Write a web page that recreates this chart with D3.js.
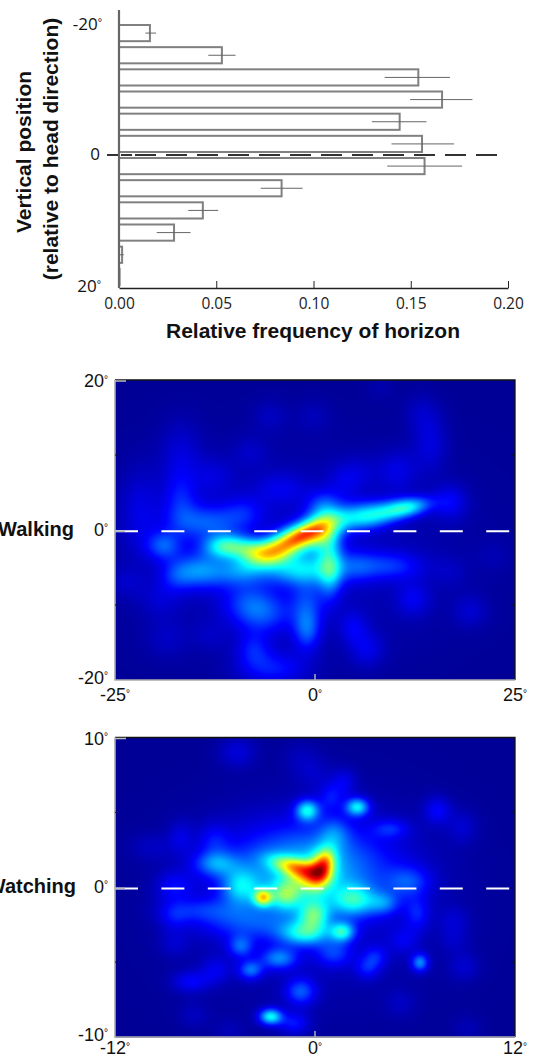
<!DOCTYPE html>
<html><head><meta charset="utf-8">
<script src="https://cdnjs.cloudflare.com/ajax/libs/d3/7.8.5/d3.min.js"></script>
<style>html,body{margin:0;padding:0;background:#fff;overflow:hidden}svg{display:block}</style>
</head><body><svg id="c" width="533" height="1058"></svg>
<script>
const binIndex=[1,2,3,4,5,6,7,8,9,10,11,12];
const freq=[0.0159,0.0529,0.1539,0.1661,0.1443,0.1558,0.1571,0.0836,0.0431,0.0283,0.0016,0.0003];
const errLow=[0.0136,0.0459,0.1366,0.1497,0.130,0.1401,0.1379,0.0729,0.0356,0.0194,0.0002,0];
const errHigh=[0.019,0.0599,0.1702,0.1817,0.1581,0.1723,0.1764,0.0944,0.051,0.0368,0.0024,0.0006];
const freqTicks=[0,0.05,0.10,0.15,0.20];
// hotspots: [x deg, y deg, level, spread x, spread y, tilt]
const walking=[
[-3,-3,.07,9,6,0],
[-2.25,-1.2,.72,2.7,.85,-25],[-1.4,-.5,.15,1.3,.5,-25],[-5.8,-3.2,.18,1.2,.8,0],[-11,-2.2,.42,1.3,.75,0],[-8,-2.6,.2,1,.7,0],
[1.9,-5.2,.28,.7,1.8,0],[-1.8,-5.2,.33,2.2,1,0],[6.9,1.9,.36,1.7,.8,-10],[11.5,3,.38,1.4,.6,-10],[16.9,3.7,.12,1,1.1,0],
[1.1,3,.2,1,1,0],[1.1,-1.2,.24,1,1.2,0],[-14.3,-5.4,.25,1.5,1.1,0],[-18.9,-2.1,.2,1,.9,0],[-13.5,1,.2,2,1.1,0],
[-16.8,3.7,.13,1,1.8,0],[-8.9,2.4,.1,1.2,1,0],[-6.4,-11.2,.17,1.7,1.3,0],[-1,-13.4,.2,.8,1.3,0],[-1,-9.6,.14,1,1.5,0],
[-8.5,-9.6,.12,1.5,1.2,0],[-7.7,-15.9,.13,1,1.1,0],[-5.2,-18.5,.15,2,1.1,0],[6.5,-15.9,.1,1,1.1,0],[4.8,-13,.1,.8,1,0],
[9.4,-4.8,.16,1.9,.9,0],[5.2,-4.8,.12,1.2,1,0],[12.3,-9.2,.1,1,1.1,0],[19.4,-10.8,.07,1,1,0],[14.4,11.7,.09,1,1.8,0],
[13.2,15.7,.05,1,1.2,0],[10.3,7.9,.09,1.2,1.3,0],[-16.8,9.9,.08,1.2,2.2,0],[-21.8,2.4,.09,1.2,2.7,0],[-5.6,15.2,.05,1,1,0],
[-.2,15.2,.04,1,1,0],[8.2,19,.03,.8,.8,0],[-8.1,10.4,.05,1,1,0],[3.6,6.4,.07,1,1.2,0],[5.7,7.7,.05,1,1,0],
[-12.7,7.2,.07,1.2,1.2,0],[-4.3,5.5,.08,1.5,1,0],[-18.5,-14.5,.05,1.2,1.2,0],[-13.1,-14.1,.04,1,1,0],[16.9,-5.6,.04,1,1,0],
[-23.5,-7,.05,1,1,0],[-19.3,-9.2,.06,1.2,1.2,0],[22.3,-3.4,.03,1,1,0],[-9.3,-5.6,.15,1.5,1,0],[-17.3,-6.1,.12,1,1,0]];
const watching=[
[0,-1,.07,4,3.5,0],
[.34,1.13,.42,.4,.7,15],[.64,1.7,.22,.3,.5,15],[-1.26,1.36,.4,.8,.33,15],[-.46,.7,.28,.6,.5,0],[-.46,1.13,.33,2.6,1.6,0],
[-.46,5.13,.38,.38,.38,0],[2.54,5.36,.38,.38,.33,0],[-3.12,-.69,.5,.3,.3,0],[-1.76,-.53,.32,.5,.5,0],[-.06,-1.87,.35,.5,.55,0],
[1.64,-2.98,.36,.4,.35,0],[-.66,-3.09,.33,.8,.45,0],[2.34,-.87,.3,.7,.55,0],[4.14,-1.09,.17,.5,.4,0],[-4.46,.02,.25,.6,.65,0],
[-5.96,1.58,.22,.7,.45,0],[-2.66,-8.64,.42,.38,.3,0],[-.86,-6.98,.22,.5,.5,0],[-1.26,-9.09,.15,.5,.4,0],[-2.16,-4.76,.25,.6,.4,0],
[-3.86,-5.53,.24,.4,.35,0],[-4.46,-3.98,.2,.4,.4,0],[6.3,-5.04,.28,.28,.33,0],[3.14,-5.42,.13,.4,.4,0],[3.64,-4.64,.13,.4,.4,0],
[1.14,-4.42,.16,.6,.5,0],[-7.46,-6.31,.13,.6,.4,0],[-5.96,-5.53,.1,.5,.5,0],[-4.66,9.02,.09,.6,.55,0],[7.34,5.13,.13,.44,.5,0],
[8.84,4.02,.07,.5,.6,0],[4.54,3.91,.13,.6,.35,0],[5.64,.36,.16,.7,.55,0],[6.14,-1.76,.13,.4,.6,0],[1.74,7.02,.1,.4,.5,0],
[.94,6.02,.12,.4,.5,0],[-.86,8.69,.04,.6,.6,0],[-.06,7.58,.05,.6,.6,0],[-8.06,3.36,.08,.4,.6,0],[-9.86,2.69,.05,.7,.5,0],
[-8.46,.02,.12,.6,.55,0],[-6.86,-1.53,.12,1.2,.45,0],[-4.06,-2.42,.15,1.6,.65,0],[-8.46,-1.98,.09,.5,.5,0],[-8.46,-3.76,.06,.5,.5,0],
[5.34,-3.53,.09,.5,.5,0],[8.34,-2.2,.06,.5,.5,0],[8.94,-5.31,.07,.5,.5,0],[8.34,-3.53,.05,.5,.5,0],[5.14,-7.76,.05,.5,.5,0],
[-7.26,-8.53,.05,.5,.5,0],[9.14,-9.42,.04,.5,.5,0],[-5.16,-9.64,.04,.5,.5,0],[1.14,3.6,.14,.5,.6,0],[-6.06,3.13,.1,.5,.6,0]];

const svg=d3.select("#c");
const tickFont="'Open Sans',sans-serif", labFont="'Liberation Sans',Arial,sans-serif";
function deg(sel,txt,size){sel.text(txt);sel.append("tspan").attr("font-size",size).attr("dy",-size*.45).text("°");}

/* bar chart */
const xF=d3.scaleLinear().domain([0,.2]).range([119,508]);
const yB=d3.scaleBand().domain(binIndex).range([22,288]).paddingInner(.27).paddingOuter(.135);
const barG=svg.append("g");
barG.selectAll("rect.bar").data(binIndex).join("rect").attr("class","bar")
 .attr("x",xF(0)).attr("y",d=>yB(d)).attr("width",(d,i)=>xF(freq[i])-xF(0)).attr("height",yB.bandwidth())
 .attr("fill","#fff").attr("stroke","#808080").attr("stroke-width",2);
barG.selectAll("line.err").data(binIndex).join("line").attr("class","err")
 .attr("x1",(d,i)=>xF(errLow[i])).attr("x2",(d,i)=>xF(errHigh[i]))
 .attr("y1",d=>yB(d)+yB.bandwidth()/2).attr("y2",d=>yB(d)+yB.bandwidth()/2)
 .attr("stroke","#666").attr("stroke-width",1);
const axB=barG.append("g").attr("transform","translate(0,288)")
 .call(d3.axisBottom(xF).tickValues(freqTicks).tickFormat(d3.format(".2f")).tickSize(-7).tickSizeOuter(0));
axB.select(".domain").attr("stroke","#222").attr("stroke-width",1.3);
axB.selectAll(".tick line").attr("stroke","#222");
axB.selectAll(".tick text").attr("y",10).attr("font-family",tickFont).attr("font-size",15.5).attr("fill","#222");
barG.append("line").attr("x1",xF(0)).attr("x2",xF(0)).attr("y1",10).attr("y2",288).attr("stroke","#666").attr("stroke-width",2.2);
barG.append("line").attr("x1",107).attr("x2",501).attr("y1",155).attr("y2",155)
 .attr("stroke","#333").attr("stroke-width",2).attr("stroke-dasharray","11 3 11 3 21 10 21 10 21 10 21 10 21 10 21 10 21 10 21 10 21 10 21 10 21 10 21 10");
barG.append("text").attr("x",102).attr("y",30).attr("text-anchor","end").attr("font-family",tickFont).attr("font-size",17).attr("fill","#111").call(deg,"-20",10);
barG.append("text").attr("x",100).attr("y",160).attr("text-anchor","end").attr("font-family",tickFont).attr("font-size",17).attr("fill","#111").text("0");
barG.append("text").attr("x",101).attr("y",292).attr("text-anchor","end").attr("font-family",tickFont).attr("font-size",17).attr("fill","#111").call(deg,"20",10);
const bold=(s)=>s.attr("text-anchor","middle").attr("font-family",labFont).attr("font-weight","bold").attr("font-size",21).attr("fill","#111");
barG.append("text").attr("x",313).attr("y",338).call(bold).text("Relative frequency of horizon");
barG.append("text").attr("transform","translate(31,152) rotate(-90)").call(bold).text("Vertical position");
barG.append("text").attr("transform","translate(58,149) rotate(-90)").call(bold).text("(relative to head direction)");

/* jet colour scale */
const jet=d3.scaleLinear().domain([0,.125,.375,.625,.875,1]).range(["rgb(0,0,150)","rgb(0,0,255)","rgb(0,255,255)","rgb(255,255,0)","rgb(255,0,0)","rgb(128,0,0)"]).clamp(true);
const levelFactor=.85;

function panel(o){
 const x=d3.scaleLinear().domain(o.xd).range([o.l,o.r]);
 const y=d3.scaleLinear().domain(o.yd).range([o.b,o.t]);
 const W=Math.round(o.r-o.l),H=Math.round(o.b-o.t);
 const cv=document.createElement("canvas");cv.width=W;cv.height=H;
 const ctx=cv.getContext("2d"),img=ctx.createImageData(W,H);
 const prep=o.spots.map(s=>{const a=s[5]*Math.PI/180;return{px:x(s[0]),py:y(s[1]),v:s[2]*levelFactor,
   sx:o.spread*Math.abs(x(s[3])-x(0)),sy:o.spread*Math.abs(y(s[4])-y(0)),c:Math.cos(a),s:Math.sin(a)}});
 for(let j=0;j<H;j++)for(let i=0;i<W;i++){
  let f=0;const X=o.l+i+.5,Y=o.t+j+.5;
  for(const p of prep){const dx=X-p.px,dy=Y-p.py;const u=dx*p.c+dy*p.s,w=-dx*p.s+dy*p.c;
   f+=p.v*Math.exp(-.5*(u*u/(p.sx*p.sx)+w*w/(p.sy*p.sy)));}
  const c=d3.rgb(jet(f)),k=(j*W+i)*4;
  img.data[k]=c.r;img.data[k+1]=c.g;img.data[k+2]=c.b;img.data[k+3]=255;
 }
 ctx.putImageData(img,0,0);
 const g=svg.append("g");
 g.append("image").attr("x",o.l).attr("y",o.t).attr("width",W).attr("height",H).attr("href",cv.toDataURL());
 const ly=y(0)+1.2;
 g.append("line").attr("x1",o.l).attr("x2",o.r).attr("y1",ly).attr("y2",ly).attr("stroke","#fff").attr("stroke-width",2).attr("stroke-dasharray","23 23.4");
 g.append("path").attr("d",`M${o.l},${o.t}H${o.r}V${o.b}`).attr("fill","none").attr("stroke","#111").attr("stroke-width",1.3);
 g.append("path").attr("d",`M${o.l},${o.t}V${o.b}H${o.r}`).attr("fill","none").attr("stroke","#aaa").attr("stroke-width",1.6);
 g.append("path").attr("d",`M${o.l},${o.t+1}h11M${x(0)},${o.b}v-6M${o.l},${ly}h10`).attr("fill","none").attr("stroke","#bbb").attr("stroke-width",1.4);
 [o.yd[0]/2,o.yd[1]/2].forEach(v=>{
  g.append("path").attr("d",`M${o.l},${y(v)}h3M${o.r},${y(v)}h-3`).attr("stroke","#111").attr("fill","none");
 });
 const tx=(sx,sy,t,a)=>g.append("text").attr("x",sx).attr("y",sy).attr("text-anchor",a).attr("font-family",labFont).attr("font-size",18).attr("fill","#111").call(deg,t,10);
 tx(o.l-7,o.t+7,String(o.yd[1]),"end");
 tx(o.l-7,y(0)+5.5,"0","end");
 tx(o.l-7,o.b+3.5,String(o.yd[0]),"end");
 tx(x(o.xd[0]),o.lab,String(o.xd[0]),"middle");
 tx(x(0),o.lab,"0","middle");
 tx(x(o.xd[1]),o.lab,String(o.xd[1]),"middle");
 g.append("text").attr("x",o.nameX).attr("y",y(0)+5.5).attr("text-anchor","end").attr("font-family",labFont).attr("font-weight","bold").attr("font-size",20).attr("fill","#111").text(o.name);
}
panel({name:"Walking",nameX:74,spots:walking,spread:1.5,xd:[-25,25],yd:[-20,20],l:115,r:515,t:380,b:680,lab:701});
panel({name:"Watching",nameX:76,spots:watching,spread:1.3,xd:[-12,12],yd:[-10,10],l:115,r:515,t:737.5,b:1037,lab:1054});
</script></body></html>
